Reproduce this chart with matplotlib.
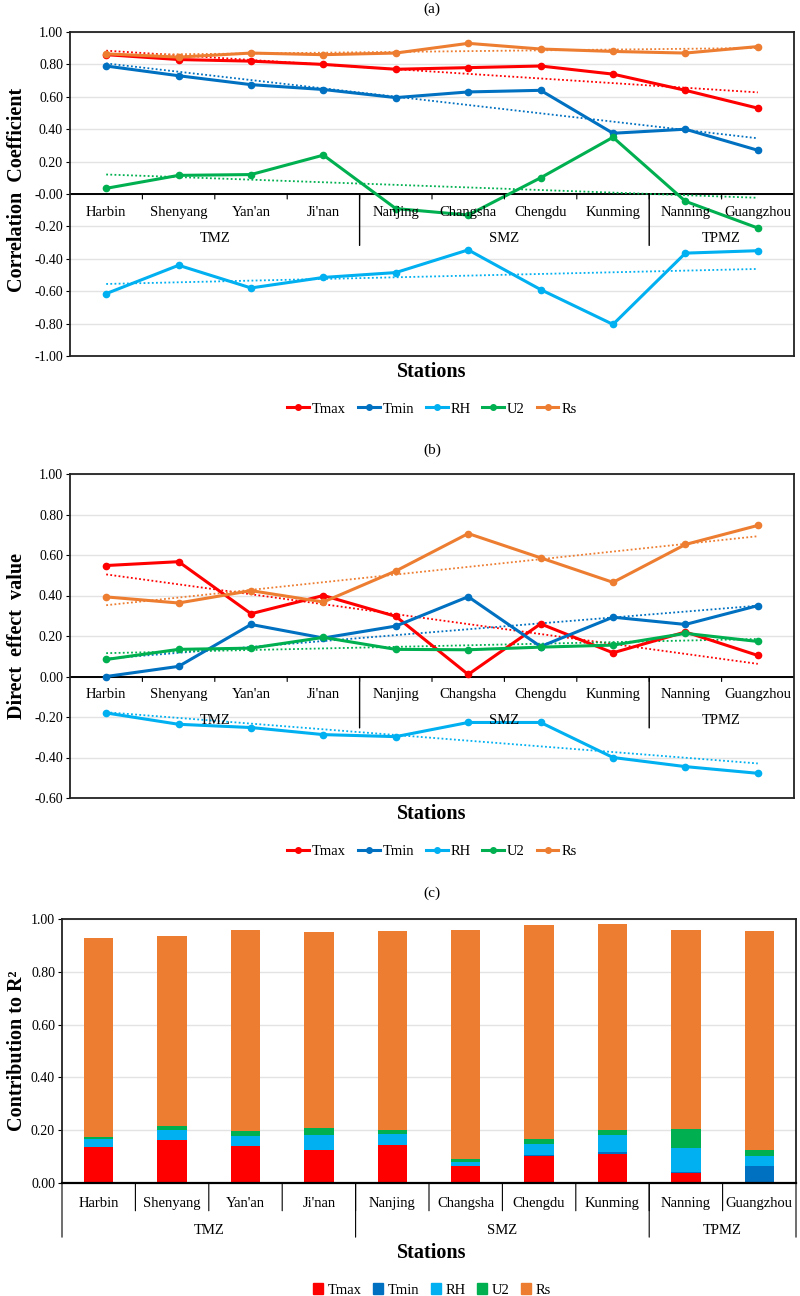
import numpy as np
import matplotlib
matplotlib.use('Agg')
import matplotlib.pyplot as plt
from matplotlib.lines import Line2D
from matplotlib.patches import Patch
from matplotlib.ticker import FormatStrFormatter

plt.rcParams['font.family'] = ['Liberation Serif', 'DejaVu Serif']

# stations and climate zones
stations = ['Harbin', 'Shenyang', "Yan'an", "Ji'nan", 'Nanjing',
            'Changsha', 'Chengdu', 'Kunming', 'Nanning', 'Guangzhou']
zones = ['TMZ', 'SMZ', 'TPMZ']
zone_sizes = [4, 4, 2]
variables = ['Tmax', 'Tmin', 'RH', 'U2', 'Rs']
colors = ['#FF0000', '#0070C0', '#00B0F0', '#00B050', '#ED7D31']

# (a) correlation coefficients
corr_tmax = [0.86, 0.83, 0.82, 0.80, 0.77, 0.78, 0.79, 0.74, 0.64, 0.53]
corr_tmin = [0.79, 0.73, 0.675, 0.645, 0.595, 0.63, 0.64, 0.375, 0.40, 0.27]
corr_rh = [-0.615, -0.44, -0.58, -0.515, -0.485, -0.345, -0.59, -0.805, -0.365, -0.35]
corr_u2 = [0.035, 0.115, 0.12, 0.24, -0.09, -0.13, 0.10, 0.35, -0.045, -0.21]
corr_rs = [0.865, 0.845, 0.87, 0.86, 0.87, 0.93, 0.895, 0.88, 0.87, 0.91]

# (b) direct effect values
de_tmax = [0.548, 0.567, 0.31, 0.40, 0.297, 0.01, 0.26, 0.117, 0.22, 0.104]
de_tmin = [0.0, 0.05, 0.257, 0.19, 0.249, 0.394, 0.148, 0.293, 0.257, 0.35]
de_rh = [-0.18, -0.236, -0.252, -0.287, -0.297, -0.227, -0.227, -0.40, -0.445, -0.478]
de_u2 = [0.084, 0.134, 0.14, 0.193, 0.134, 0.132, 0.145, 0.155, 0.213, 0.173]
de_rs = [0.393, 0.363, 0.424, 0.368, 0.521, 0.706, 0.586, 0.465, 0.652, 0.746]

# (c) contribution to R2
r2_tmax = [0.138, 0.162, 0.139, 0.125, 0.143, 0.066, 0.102, 0.111, 0.039, 0.0]
r2_tmin = [0.0, 0.0, 0.0, 0.0, 0.0, 0.0, 0.004, 0.006, 0.004, 0.066]
r2_rh = [0.029, 0.038, 0.038, 0.057, 0.043, 0.014, 0.041, 0.064, 0.091, 0.036]
r2_u2 = [0.006, 0.017, 0.019, 0.028, 0.014, 0.012, 0.021, 0.021, 0.070, 0.022]
r2_rs = [0.755, 0.717, 0.762, 0.740, 0.756, 0.866, 0.808, 0.778, 0.754, 0.832]

W, H = 800, 1296
fig = plt.figure(figsize=(W / 100, H / 100), dpi=100)

TICK_FS = 10
CAT_FS = 10.5
LEG_FS = 10.5
LAB_FS = 14.5


def px_axes(l, t, r, b):
    return fig.add_axes([l / W, 1 - b / H, (r - l) / W, (b - t) / H])


def vline_down(ax, x, y, pts, lw=1.0):
    ax.annotate('', xy=(x, y), xycoords='data', xytext=(0, -pts),
                textcoords='offset points', annotation_clip=False,
                arrowprops=dict(arrowstyle='-', lw=lw, color='black',
                                shrinkA=0, shrinkB=0))


def label_down(ax, x, y, pts, s, size=CAT_FS):
    ax.annotate(s, xy=(x, y), xycoords='data', xytext=(0, -pts),
                textcoords='offset points', ha='center', va='center',
                fontsize=size, annotation_clip=False)


def style_axes(ax, ylo, yhi):
    ax.set_xlim(-0.5, 9.5)
    ax.set_ylim(ylo, yhi)
    ax.set_yticks(np.arange(ylo, yhi + 0.01, 0.2))
    ax.yaxis.set_major_formatter(FormatStrFormatter('%.2f'))
    ax.tick_params(axis='y', labelsize=TICK_FS, length=3, width=0.8, pad=2)
    ax.set_xticks([])
    ax.grid(axis='y', color='#E3E3E3', lw=1.0)
    ax.set_axisbelow(True)
    for sp in ax.spines.values():
        sp.set_linewidth(1.3)
        sp.set_color('#222222')


def line_panel(ax, series, ylo, yhi):
    style_axes(ax, ylo, yhi)
    x = np.arange(len(stations))
    ax.axhline(0, color='black', lw=1.4, zorder=1.5)
    for vals, c in zip(series, colors):
        ax.plot(x, vals, color=c, lw=2.2, marker='o', ms=4.5, zorder=3)
        k, b0 = np.polyfit(x, vals, 1)
        ax.plot(x, k * x + b0, color=c, lw=1.3, ls=(0, (1, 1.3)), zorder=2)
    # category axis drawn on the zero line
    for i in range(1, len(stations)):
        vline_down(ax, i - 0.5, 0, 3.6, lw=0.8)
    for i, s in enumerate(stations):
        label_down(ax, i, 0, 13, s)
    start = 0
    for z, n in zip(zones, zone_sizes):
        label_down(ax, start + (n - 1) / 2, 0, 32, z)
        start += n
        if start < len(stations):
            vline_down(ax, start - 0.5, 0, 37, lw=1.0)


def line_legend(ycenter):
    handles = [Line2D([], [], color=c, lw=2.2, marker='o', ms=4)
               for c in colors]
    fig.legend(handles, variables, loc='center', ncol=5, frameon=False,
               bbox_to_anchor=(432 / W, 1 - ycenter / H), fontsize=LEG_FS,
               handlelength=1.5, handletextpad=0.2, columnspacing=0.8)


cx = 432 / W

# ---- (a)
ax_a = px_axes(70, 32, 794, 356)
line_panel(ax_a, [corr_tmax, corr_tmin, corr_rh, corr_u2, corr_rs], -1.0, 1.0)
fig.text(cx, 1 - 9 / H, '(a)', ha='center', va='center', fontsize=11)
fig.text(cx, 1 - 372 / H, 'Stations', ha='center', va='center',
         fontsize=LAB_FS, fontweight='bold')
fig.text(17 / W, 1 - 190 / H, 'Correlation  Coefficient', rotation=90,
         ha='center', va='center', fontsize=LAB_FS, fontweight='bold')
line_legend(409)

# ---- (b)
ax_b = px_axes(70, 474, 794, 798)
line_panel(ax_b, [de_tmax, de_tmin, de_rh, de_u2, de_rs], -0.6, 1.0)
fig.text(cx, 1 - 450 / H, '(b)', ha='center', va='center', fontsize=11)
fig.text(cx, 1 - 814 / H, 'Stations', ha='center', va='center',
         fontsize=LAB_FS, fontweight='bold')
fig.text(17 / W, 1 - 636 / H, 'Direct  effect  value', rotation=90,
         ha='center', va='center', fontsize=LAB_FS, fontweight='bold')
line_legend(851)

# ---- (c)
ax_c = px_axes(62, 919, 796, 1183)
style_axes(ax_c, 0.0, 1.0)
ax_c.spines['bottom'].set_color('black')
ax_c.spines['bottom'].set_linewidth(1.6)
x = np.arange(len(stations))
bottom = np.zeros(len(stations))
for vals, c in zip([r2_tmax, r2_tmin, r2_rh, r2_u2, r2_rs], colors):
    ax_c.bar(x, vals, width=0.4, bottom=bottom, color=c, zorder=2)
    bottom = bottom + np.array(vals)
for i in range(1, len(stations)):
    vline_down(ax_c, i - 0.5, 0, 20, lw=0.8)
for i, s in enumerate(stations):
    label_down(ax_c, i, 0, 15, s)
start = 0
vline_down(ax_c, -0.5, 0, 39, lw=0.8)
for z, n in zip(zones, zone_sizes):
    label_down(ax_c, start + (n - 1) / 2, 0, 34.5, z)
    start += n
    vline_down(ax_c, start - 0.5, 0, 39, lw=0.8)
fig.text(cx, 1 - 893 / H, '(c)', ha='center', va='center', fontsize=11)
fig.text(cx, 1 - 1253 / H, 'Stations', ha='center', va='center',
         fontsize=LAB_FS, fontweight='bold')
fig.text(17 / W, 1 - 1051 / H, 'Contribution to R²', rotation=90,
         ha='center', va='center', fontsize=LAB_FS, fontweight='bold')
patches = [Patch(color=c) for c in colors]
fig.legend(patches, variables, loc='center', ncol=5, frameon=False,
           bbox_to_anchor=(cx, 1 - 1290 / H), fontsize=LEG_FS,
           handlelength=0.7, handleheight=0.7, handletextpad=0.3,
           columnspacing=0.8)

fig.savefig('out.png', dpi=100)
